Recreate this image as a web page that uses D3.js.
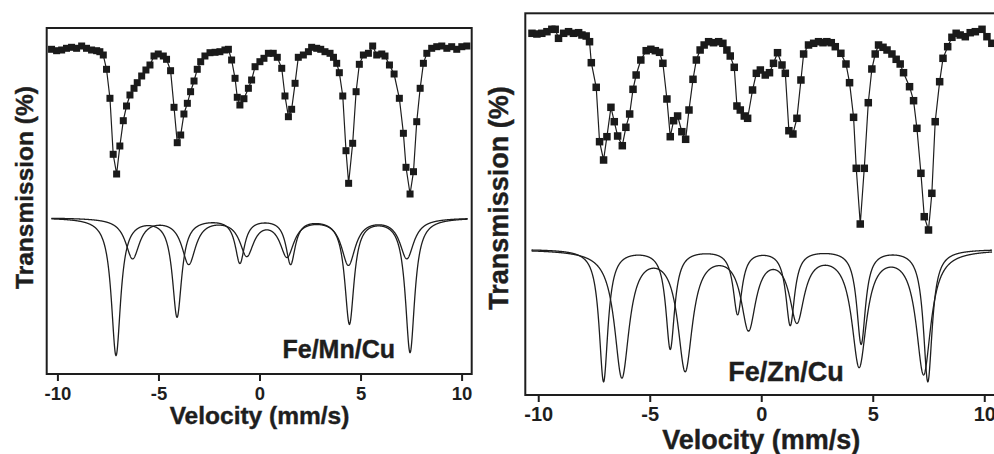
<!DOCTYPE html>
<html>
<head>
<meta charset="utf-8">
<script src="https://cdn.jsdelivr.net/npm/d3@7/dist/d3.min.js"></script>
<style>
  body { margin: 0; background: #fff; }
  svg { display: block; font-family: "Liberation Sans", Arial, sans-serif; font-weight: bold; }
</style>
</head>
<body>
<div id="graph"></div>
<script>
const velocityTicks = [-10, -5, 0, 5, 10];

// Fe/Mn/Cu measured spectrum
const mnVelocity = [-10.29, -10.04, -9.79, -9.55, -9.30, -9.05, -8.80, -8.56, -8.31, -8.06, -7.90, -7.73,
  -7.57, -7.40, -7.24, -7.07, -6.91, -6.74, -6.58, -6.41, -6.21, -6.05, -5.83, -5.62, -5.42, -5.22,
  -5.01, -4.76, -4.60, -4.40, -4.23, -4.07, -3.90, -3.74, -3.57, -3.41, -3.24, -3.08, -2.91, -2.70,
  -2.45, -2.20, -1.96, -1.71, -1.54, -1.38, -1.21, -1.10, -0.97, -0.77, -0.55, -0.39, -0.22, 0.02,
  0.22, 0.44, 0.68, 0.88, 1.10, 1.26, 1.43, 1.59, 1.76, 1.92, 2.17, 2.42, 2.58, 2.83, 3.03, 3.24,
  3.49, 3.66, 3.82, 3.95, 4.12, 4.28, 4.41, 4.61, 4.78, 4.94, 5.14, 5.39, 5.60, 5.80, 6.05, 6.21,
  6.43, 6.66, 6.92, 7.12, 7.25, 7.45, 7.62, 7.78, 7.95, 8.11, 8.28, 8.52, 8.77, 9.02, 9.27, 9.51,
  9.76, 10.01, 10.26];
const mnTransmission = [100.07, 99.93, 100.0, 100.17, 100.27, 100.17, 100.4, 100.17, 100.0, 99.93, 99.83, 99.5,
  98.07, 95.17, 89.57, 87.6, 90.4, 92.93, 94.4, 95.5, 96.17, 96.73, 97.4, 98.0, 98.5, 99.4,
  99.6, 99.4, 99.07, 97.93, 94.27, 90.73, 91.5, 93.6, 94.67, 95.83, 96.9, 98.07, 98.83, 99.4,
  99.73, 99.77, 99.83, 100.0, 100.07, 99.0, 97.17, 95.27, 94.5, 95.13, 96.17, 97.0, 98.33, 98.83,
  99.17, 99.67, 99.67, 99.27, 98.17, 95.4, 93.33, 94.07, 96.67, 99.27, 99.5, 99.83, 100.27, 100.17, 100.07, 99.83,
  99.67, 99.27, 98.67, 97.73, 95.4, 89.93, 86.67, 90.67, 95.83, 98.57, 99.5, 99.67, 100.4, 99.5, 99.6, 99.4,
  98.5, 97.6, 95.17, 91.67, 88.27, 85.6, 87.83, 92.83, 96.17, 98.67, 99.67, 100.17, 100.33, 100.4, 100.17, 100.33,
  100.07, 100.33, 100.4];

// Fe/Zn/Cu measured spectrum
const znVelocity = [-10.28, -10.06, -9.84, -9.61, -9.39, -9.24, -9.09, -8.86, -8.64, -8.42, -8.19, -8.04,
  -7.85, -7.70, -7.62, -7.40, -7.25, -7.07, -6.92, -6.74, -6.59, -6.44, -6.23, -6.07, -5.90, -5.75,
  -5.61, -5.40, -5.16, -4.95, -4.75, -4.56, -4.41, -4.23, -4.08, -3.93, -3.75, -3.56, -3.39, -3.24,
  -3.06, -2.91, -2.74, -2.56, -2.36, -2.14, -1.91, -1.72, -1.54, -1.39, -1.21, -1.09, -0.94, -0.76,
  -0.61, -0.39, -0.22, -0.04, 0.18, 0.37, 0.55, 0.73, 0.93, 1.08, 1.24, 1.42, 1.60, 1.78, 1.90, 2.12,
  2.35, 2.57, 2.77, 2.94, 3.14, 3.32, 3.57, 3.80, 3.96, 4.14, 4.26, 4.44, 4.62, 4.80, 4.96, 5.11,
  5.26, 5.46, 5.64, 5.86, 6.05, 6.23, 6.38, 6.65, 6.83, 6.98, 7.16, 7.31, 7.50, 7.65, 7.80, 8.00,
  8.15, 8.36, 8.55, 8.74, 8.92, 9.15, 9.37, 9.60, 9.90, 10.12, 10.34];
const znTransmission = [99.97, 99.9, 99.97, 100.13, 100.37, 100.37, 99.47, 99.97, 100.13, 99.97, 100.03, 99.8,
  99.7, 99.13, 97.03, 94.57, 89.13, 87.3, 89.63, 92.57, 91.13, 89.7, 88.73, 90.57, 91.9, 94.37,
  95.8, 97.3, 98.23, 98.37, 98.23, 98.07, 96.97, 93.4, 89.63, 91.23, 91.7, 90.13, 89.37, 92.3,
  95.37, 97.3, 98.3, 98.8, 99.13, 99.03, 99.13, 98.97, 98.3, 97.7, 96.57, 92.7, 92.3, 91.7,
  91.47, 94.3, 95.97, 96.3, 95.8, 96.03, 96.97, 98.03, 96.8, 95.97, 90.23, 89.9, 91.47, 95.3, 97.9, 98.8,
  98.97, 99.13, 99.03, 99.13, 99.03, 98.63, 97.97, 96.9, 95.03, 91.57, 86.47, 80.9, 86.47, 93.03, 96.4, 97.9,
  98.8, 98.57, 98.3, 97.9, 97.37, 96.9, 96.03, 94.63, 93.23, 90.47, 85.97, 81.63, 80.3, 83.97, 91.13, 95.13,
  97.47, 98.63, 99.57, 99.97, 99.8, 99.63, 100.03, 100.13, 100.37, 99.63, 98.97];

// fitted sub-spectra (sextets): line positions (mm/s) and depths (% below the fit baseline)
const mnSharpLines = [-7.10, -4.08, -0.97, 1.54, 4.45, 7.45];
const mnSharpDepths = [13.7, 9.8, 4.4, 4.5, 10.5, 13.4];
const mnBroadLines = [-6.28, -3.50, -0.63, 1.36, 4.40, 7.29];
const mnBroadDepths = [4.0, 4.5, 3.6, 3.7, 4.6, 4.0];
const znSharpLines = [-7.07, -4.08, -1.06, 1.30, 4.48, 7.47];
const znSharpDepths = [13.2, 9.9, 6.4, 7.5, 9.4, 13.2];
const znBroadLines = [-6.25, -3.41, -0.57, 1.60, 4.39, 7.28];
const znBroadDepths = [12.6, 11.8, 7.6, 6.8, 11.4, 12.3];

const svg = d3.select("#graph").append("svg")
  .attr("width", 994)
  .attr("height", 454);

const ink = "#1e1e1e";

function sextet(v, lines, depths, hw) {
  return d3.sum(lines, (c, i) => depths[i] * hw * hw / ((v - c) * (v - c) + hw * hw));
}

function drawPanel(p) {
  const x = d3.scaleLinear().domain(p.xDomain).range([p.left, p.right]);
  const y = d3.scaleLinear().domain(p.yDomain).range([p.bottom, p.top]);
  const g = svg.append("g");

  // fitted components
  const grid = d3.range(p.fitRange[0], p.fitRange[1] + 1e-9, 0.01);
  const line = d3.line().x(d => x(d[0])).y(d => y(d[1]));
  p.components.forEach(c => {
    const pts = grid.map(v => [v, p.fitBase - sextet(v, c.lines, c.depths, c.hw)]);
    g.append("path")
      .attr("d", line(pts))
      .attr("fill", "none")
      .attr("stroke", ink)
      .attr("stroke-width", 1.3);
  });

  // measured points
  const data = p.velocity.map((v, i) => [v, p.transmission[i]]);
  g.append("path")
    .attr("d", line(data))
    .attr("fill", "none")
    .attr("stroke", ink)
    .attr("stroke-width", 1.2);

  g.selectAll(".pt")
    .data(data)
    .enter().append("rect")
    .attr("class", "pt")
    .attr("x", d => x(d[0]) - p.marker / 2)
    .attr("y", d => y(d[1]) - p.marker / 2)
    .attr("width", p.marker)
    .attr("height", p.marker)
    .attr("fill", "#1a1a1a");

  // frame
  g.append("rect")
    .attr("x", p.left)
    .attr("y", p.top)
    .attr("width", p.right - p.left)
    .attr("height", p.bottom - p.top)
    .attr("fill", "none")
    .attr("stroke", ink)
    .attr("stroke-width", 2);

  const ax = g.append("g")
    .attr("transform", "translate(0," + p.bottom + ")")
    .call(d3.axisBottom(x).tickValues(velocityTicks).tickSize(7).tickPadding(p.tickPad).tickFormat(d => String(d)));
  ax.select(".domain").remove();
  ax.selectAll("line").attr("stroke", ink).attr("stroke-width", 2);
  ax.selectAll("text")
    .attr("fill", ink)
    .style("font-size", p.tickFont + "px")
    .style("font-weight", "bold")
    .style("font-family", "'Liberation Sans', Arial, sans-serif");

  g.append("text")
    .attr("x", x(0))
    .attr("y", p.xTitleY)
    .attr("text-anchor", "middle")
    .attr("fill", ink)
    .attr("stroke", ink)
    .attr("stroke-width", 0.4)
    .style("font-size", p.titleFont + "px")
    .text("Velocity (mm/s)");

  g.append("text")
    .attr("transform", "translate(" + p.yTitleX + "," + p.yTitleY + ") rotate(-90)")
    .attr("text-anchor", "middle")
    .attr("fill", ink)
    .attr("stroke", ink)
    .attr("stroke-width", 0.4)
    .style("font-size", p.titleFont + "px")
    .text("Transmission (%)");

  g.append("text")
    .attr("x", p.labelX)
    .attr("y", p.labelY)
    .attr("fill", ink)
    .attr("stroke", ink)
    .attr("stroke-width", 0.4)
    .style("font-size", p.labelFont + "px")
    .text(p.label);
}

drawPanel({
  left: 46.7, right: 471.7, top: 28, bottom: 374,
  xDomain: [-10.53, 10.5], yDomain: [67.6, 102.2],
  velocity: mnVelocity, transmission: mnTransmission, marker: 7,
  fitBase: 83.25, fitRange: [-10.3, 10.3],
  components: [
    { lines: mnSharpLines, depths: mnSharpDepths, hw: 0.28 },
    { lines: mnBroadLines, depths: mnBroadDepths, hw: 0.42 }
  ],
  tickPad: 6, tickFont: 18.5, titleFont: 24.5, xTitleY: 424,
  yTitleX: 33, yTitleY: 187.5,
  label: "Fe/Mn/Cu", labelX: 282.5, labelY: 358, labelFont: 25
});

drawPanel({
  left: 525.3, right: 996.3, top: 13.3, bottom: 395,
  xDomain: [-10.58, 10.54], yDomain: [63.8, 101.97],
  velocity: znVelocity, transmission: znTransmission, marker: 7.5,
  fitBase: 78.4, fitRange: [-10.3, 10.35],
  components: [
    { lines: znSharpLines, depths: znSharpDepths, hw: 0.24 },
    { lines: znBroadLines, depths: znBroadDepths, hw: 0.40 }
  ],
  tickPad: 5, tickFont: 20, titleFont: 27, xTitleY: 449,
  yTitleX: 508, yTitleY: 198,
  label: "Fe/Zn/Cu", labelX: 728.3, labelY: 380.5, labelFont: 27
});
</script>
</body>
</html>
